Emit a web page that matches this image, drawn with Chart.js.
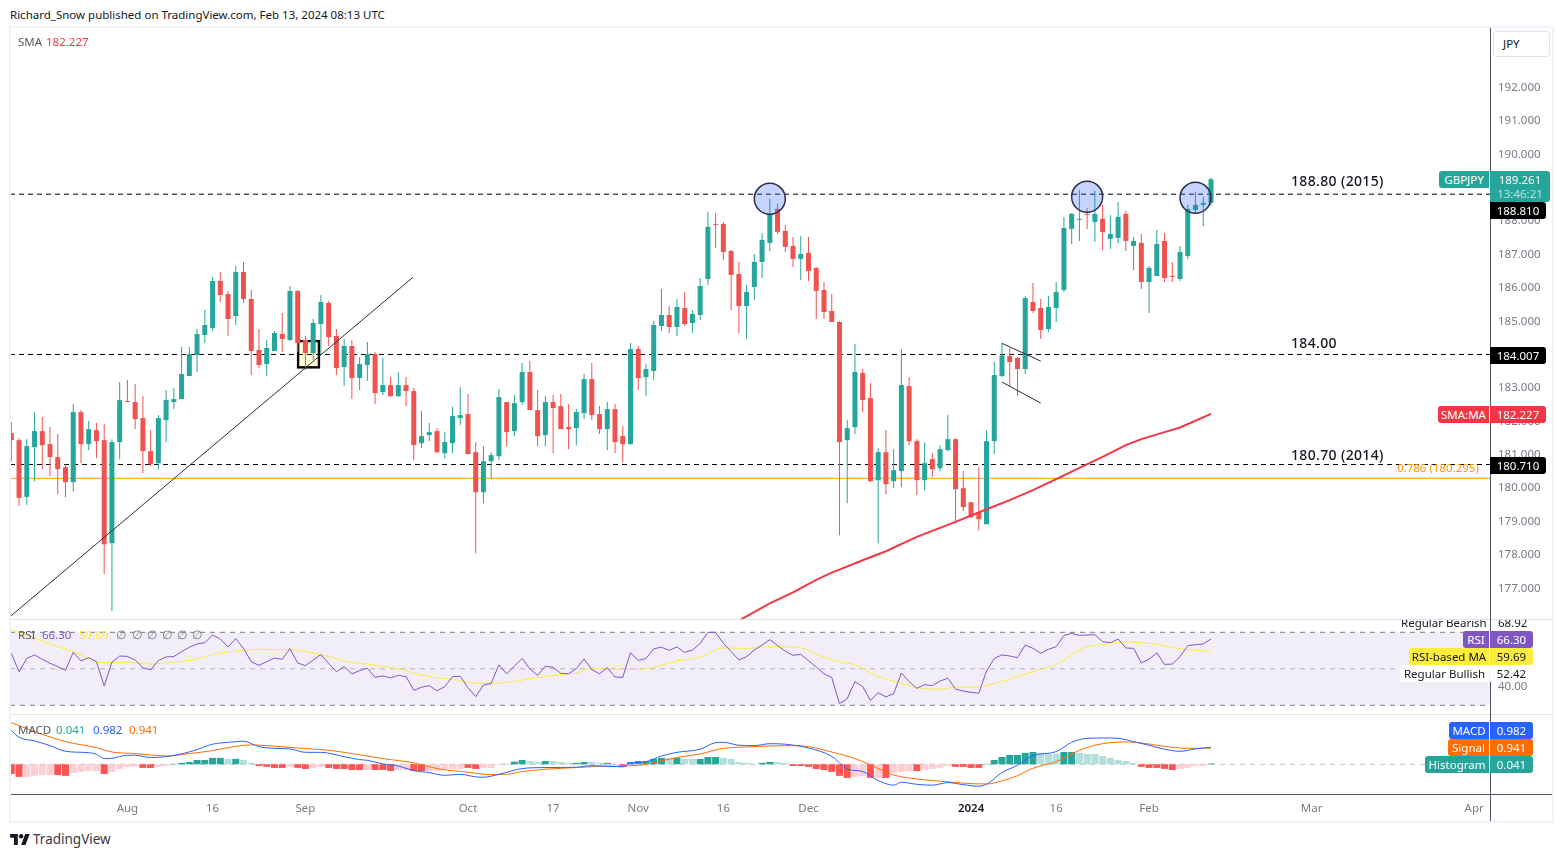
<!DOCTYPE html>
<html>
<head>
<meta charset="utf-8">
<title>GBPJPY</title>
<script src="https://cdn.jsdelivr.net/npm/chart.js@4/dist/chart.umd.js"></script>
<style>
html,body{margin:0;padding:0;background:#fff;overflow:hidden}
body{width:1564px;height:857px;position:relative;font-family:"Noto Sans",sans-serif;color:#131722}
canvas{position:absolute;left:10px}
.t{position:absolute;white-space:nowrap;font-size:11.5px;line-height:17px;z-index:5}
.line{position:absolute;z-index:4}
</style>
</head>
<body>
<canvas id="mainChart" width="1543" height="591" style="top:28px;width:1543px;height:591px"></canvas>
<canvas id="rsiChart" width="1543" height="94" style="top:620px;width:1543px;height:94px"></canvas>
<canvas id="macdChart" width="1543" height="107" style="top:715px;width:1543px;height:107px"></canvas>
<svg style="position:absolute;left:10px;top:834px" width="20" height="11" viewBox="0 0 36 20"><path fill="#131722" d="M14 20H7V7H0V0h14v20zM28 20h-8L27.5 0h8L28 20z"/><circle fill="#131722" cx="20" cy="4" r="4"/></svg>
<script>
// candles, one per weekday from 11 Jul 2023 to 13 Feb 2024
var opens = [
181.65,181.44,179.74,181.23,181.71,181.32,180.93,180.63,180.18,182.28,
181.32,181.74,181.44,178.35,181.38,182.61,182.58,182.10,181.11,180.75,
182.04,182.58,182.67,183.36,183.99,184.59,184.80,186.21,185.82,185.16,
186.48,185.67,184.14,183.72,184.11,184.62,184.44,185.91,184.44,184.05,
184.92,185.55,184.56,183.63,184.26,183.30,183.69,184.02,182.88,183.09,
182.76,183.09,182.91,181.35,181.59,181.71,181.05,181.35,182.10,182.22,
181.08,179.88,180.81,180.96,182.58,181.71,182.58,183.48,182.34,181.59,
182.58,182.46,181.83,181.80,182.25,183.27,182.22,181.77,182.37,181.56,
181.32,184.17,183.33,183.51,184.86,185.19,184.83,185.40,184.95,185.19,
186.27,187.92,187.92,187.11,186.42,185.46,186.03,186.78,187.35,188.37,
187.71,187.26,186.87,187.05,186.60,185.94,185.31,184.98,181.44,181.83,
183.45,182.70,180.24,181.08,180.21,180.51,183.06,181.41,180.24,180.87,
180.60,181.14,181.47,180.00,179.58,179.28,178.92,181.41,183.36,183.96,
183.90,183.57,185.58,185.40,184.77,185.40,185.94,187.77,188.04,188.22,
187.98,188.07,187.47,187.50,188.22,187.26,187.35,186.18,186.36,187.41,
186.36,186.27,186.96,188.34,188.49,188.55];
var closes = [
181.44,179.71,181.26,181.71,181.29,180.93,180.57,180.18,182.28,181.32,
181.77,181.41,178.32,181.38,182.64,182.58,182.07,181.11,180.72,182.10,
182.64,182.67,183.42,184.02,184.62,184.89,186.21,185.79,185.07,186.48,
185.67,184.11,183.69,184.20,184.65,184.47,185.91,184.35,184.05,184.95,
185.58,184.53,183.60,184.26,183.30,183.72,184.02,182.85,183.09,182.76,
183.09,182.91,181.29,181.56,181.68,181.08,181.38,182.16,182.19,181.02,
179.88,180.81,180.99,182.73,181.68,182.55,183.48,182.34,181.56,182.58,
182.40,181.77,181.77,182.28,183.27,182.19,181.77,182.37,181.38,181.32,
184.17,183.30,183.57,184.89,185.19,184.83,185.43,184.92,185.22,186.06,
187.83,187.89,187.08,186.39,185.46,185.88,186.78,187.44,188.22,187.68,
187.23,186.87,187.02,186.51,185.91,185.28,184.98,181.38,181.80,183.48,
182.64,180.21,181.08,180.12,180.54,183.09,181.41,180.24,180.75,180.57,
181.17,181.47,179.97,179.43,179.13,179.07,181.41,183.39,183.98,183.78,
183.57,185.70,185.31,184.74,185.43,185.88,187.80,188.22,188.07,188.19,
188.22,187.68,187.62,188.13,187.41,187.41,186.18,186.60,187.32,186.30,
186.33,187.08,188.37,188.49,188.55,189.26];
var highs = [
181.98,181.50,181.47,182.28,182.13,181.83,181.62,180.72,182.52,182.34,
182.01,181.95,181.92,181.47,183.18,183.24,183.12,182.76,181.74,182.19,
182.94,183.00,184.23,184.23,184.77,185.34,186.33,186.48,185.91,186.66,
186.78,185.94,184.77,184.44,184.71,185.25,186.06,185.94,184.56,185.07,
185.79,185.61,184.77,184.47,184.44,183.93,184.38,184.08,183.90,183.33,
183.48,183.33,183.00,182.31,181.95,181.80,181.68,182.43,183.03,182.82,
181.38,181.26,181.08,182.97,182.58,182.79,183.75,183.81,182.94,182.76,
182.79,182.82,182.52,182.37,183.42,183.75,182.46,182.58,182.52,181.86,
184.35,184.26,183.72,185.01,185.97,185.46,185.67,185.88,185.34,186.30,
188.28,188.25,187.98,187.14,186.78,186.09,187.02,187.65,188.67,188.52,
187.89,187.53,187.56,187.53,186.63,186.18,185.82,185.01,182.04,184.32,
183.57,183.15,181.20,181.74,181.17,184.17,183.33,181.47,181.38,181.05,
181.29,182.19,181.50,180.51,179.58,180.63,181.74,183.78,184.34,184.20,
183.93,185.76,186.15,185.67,185.76,186.18,188.13,188.25,188.94,188.40,
188.91,188.49,188.19,188.58,188.31,187.53,187.62,186.66,187.74,187.65,
186.78,187.26,188.49,188.88,188.73,189.30];
var lows = [
180.81,179.47,179.50,180.21,180.57,180.36,179.82,179.73,179.91,180.75,
181.14,180.90,177.42,176.31,180.87,182.58,181.77,180.45,180.66,180.57,
181.38,182.37,182.67,183.36,183.48,184.35,184.71,185.58,184.56,184.89,
185.55,183.39,183.60,183.36,184.11,184.08,184.41,184.08,183.54,183.84,
183.99,184.26,183.39,183.06,182.67,182.94,183.21,182.52,182.79,182.73,
182.73,182.46,180.84,181.20,181.41,181.05,180.90,181.05,181.89,181.02,
178.05,179.55,180.30,180.84,181.26,181.56,182.49,182.34,181.26,181.26,
181.05,181.77,181.17,181.29,182.07,182.04,181.62,181.14,181.05,180.78,
181.32,182.94,182.76,183.24,184.71,184.65,184.56,184.86,184.65,185.04,
186.09,187.20,186.84,185.34,184.65,184.47,185.64,186.30,187.11,187.62,
187.08,186.63,186.24,186.21,185.07,185.07,184.98,178.59,179.55,181.62,
182.28,180.18,178.35,179.82,180.00,180.03,181.29,179.79,179.94,180.33,
180.51,181.11,179.01,179.31,179.10,178.74,178.92,181.02,183.33,183.03,
182.76,183.42,185.25,184.47,184.68,184.98,185.88,187.32,187.41,187.77,
187.38,187.14,187.17,187.35,187.11,186.54,185.97,185.25,186.36,186.18,
186.18,186.21,186.87,188.25,187.86,188.46];

// 200 day SMA, read every few bars
var smaIdx = [94,98,101,104,106,107,110,113,117,122,126,129,132,135,138,141,144,146,149,151,155];
var smaVals = [176.03,176.55,176.88,177.25,177.47,177.56,177.84,178.11,178.54,178.99,179.37,179.64,179.94,180.27,180.61,180.94,181.29,181.47,181.68,181.82,182.227];

// drawings
var levels = [188.81,184.007,180.71];
var fibLevel = 180.295;
var trendIdx = [-0.17,51.9];
var trendVals = [176.15,186.32];
var flagIdx = [128,133];
var flagUpper = [184.34,183.81];
var flagLower = [183.18,182.55];
var circleIdx = [98,139,153];
var circleVals = [188.67,188.73,188.70];
var boxIdx = 38.4;
var boxLow = 183.59;
var boxHigh = 184.44;

// RSI, one per candle
var rsiVals = [
58.5,48.4,55.7,57.6,55.2,53.0,51.2,49.2,59.0,54.3,
56.1,53.9,40.6,53.6,57.0,56.8,54.8,50.6,49.4,54.5,
56.5,56.7,59.4,61.8,63.6,64.3,68.5,66.3,62.0,66.5,
61.2,53.9,51.9,53.9,55.9,55.2,61.0,53.2,51.7,54.8,
57.8,53.0,48.4,51.2,47.2,49.0,50.3,45.3,46.1,45.0,
46.4,45.7,38.2,39.9,40.8,38.0,40.2,45.7,45.9,39.7,
34.7,41.1,42.0,52.1,47.2,51.5,55.7,49.9,46.4,51.4,
50.8,47.5,47.3,50.1,55.4,49.5,47.3,50.6,45.5,45.3,
58.8,54.6,55.6,61.0,61.8,60.1,62.0,59.0,60.3,63.8,
70.0,70.0,64.0,59.4,54.8,56.7,60.3,63.0,66.0,62.7,
59.6,57.4,57.9,54.5,51.0,47.2,45.3,30.9,33.6,43.0,
40.2,32.7,36.9,34.6,36.4,47.7,43.0,39.3,41.3,40.8,
43.3,44.8,38.9,37.8,37.1,36.6,48.8,55.7,57.6,57.0,
56.1,63.0,61.2,58.5,60.7,62.1,68.3,69.4,68.3,68.5,
68.7,64.9,64.3,66.3,61.4,61.2,53.2,55.2,58.8,52.4,
52.6,56.6,62.7,63.2,63.6,66.3];
var rsiMaIdx = [0,3,7,8,12,15,18,21,24,26,29,32,36,40,44,46,50,54,57,60,63,65,67,68,70,73,75,78,81,83,86,89,92,95,98,102,104,107,109,112,115,117,120,122,125,127,129,130,133,135,137,139,141,143,144,148,150,152,155];
var rsiMaVals = [71.4,66.7,60.7,59.4,53.4,53.6,52.6,53.7,55.4,57.9,59.8,60.7,60.5,57.8,53.4,52.6,49.9,45.7,44.2,42.1,42.1,43.0,44.6,45.0,46.4,47.7,50.1,49.7,49.7,50.8,54.3,56.3,61.4,61.2,62.1,61.6,57.9,53.9,52.1,45.9,42.1,39.7,38.8,40.0,39.9,42.1,44.4,45.7,49.7,52.4,57.6,62.1,63.4,64.5,64.7,63.4,61.7,60.5,59.69];
var rsiUpper = 70, rsiMiddle = 50, rsiLower = 30;
var rsiTicks = [40];

// MACD
var histVals = [
-0.56,-0.73,-0.73,-0.67,-0.62,-0.62,-0.62,-0.67,-0.50,-0.44,
-0.39,-0.39,-0.56,-0.44,-0.27,-0.15,-0.13,-0.21,-0.21,-0.15,
-0.10,0.02,0.08,0.13,0.25,0.25,0.37,0.37,0.31,0.31,
0.25,0.08,-0.10,-0.15,-0.21,-0.21,-0.15,-0.21,-0.27,-0.21,
-0.15,-0.21,-0.27,-0.27,-0.33,-0.33,-0.33,-0.33,-0.33,-0.39,
-0.33,-0.33,-0.39,-0.39,-0.39,-0.39,-0.27,-0.27,-0.27,-0.21,
-0.27,-0.21,-0.21,-0.04,0.02,0.15,0.25,0.19,0.13,0.19,
0.19,0.13,0.08,0.08,0.13,0.13,0.08,0.08,0.02,-0.15,
0.13,0.19,0.19,0.31,0.37,0.37,0.37,0.31,0.31,0.31,
0.42,0.42,0.37,0.31,0.13,0.08,0.02,0.08,0.13,0.13,
0.08,-0.10,-0.10,-0.15,-0.27,-0.33,-0.44,-0.67,-0.79,-0.73,
-0.67,-0.79,-0.79,-0.79,-0.50,-0.44,-0.39,-0.39,-0.33,-0.27,
-0.21,-0.10,-0.15,-0.15,-0.21,-0.21,0.02,0.25,0.42,0.54,
0.54,0.66,0.71,0.66,0.60,0.60,0.71,0.71,0.66,0.60,
0.60,0.48,0.37,0.25,0.19,0.08,-0.15,-0.21,-0.21,-0.27,
-0.33,-0.27,-0.21,-0.10,-0.10,0.041];
// bars drawn in the full strength colour, the others are the pale tone
var histStrong = [0,1,6,7,12,17,18,21,22,23,24,25,26,27,29,32,33,34,35,37,38,41,42,43,44,45,47,48,49,52,53,59,60,64,65,66,69,73,74,77,79,80,81,82,83,84,86,89,90,91,97,98,101,102,103,104,105,106,107,108,111,113,117,122,123,124,125,126,127,128,129,130,131,132,136,137,146,147,148,149,150,155];
var macdIdx = [0,1,3,5,7,10,11,12,13,15,16,18,20,22,24,26,28,30,32,34,36,38,40,43,45,46,48,50,52,54,56,58,60,61,63,66,69,73,75,79,80,82,84,86,89,91,92,94,96,98,100,103,106,108,110,112,114,115,117,119,121,123,125,126,128,130,132,135,137,139,141,143,145,147,149,151,153,155];
var macdVals = [1.95,1.56,1.35,1.08,0.75,0.67,0.58,0.33,0.35,0.52,0.52,0.39,0.44,0.60,0.85,1.16,1.27,1.33,1.02,0.92,0.89,0.69,0.69,0.44,0.27,0.23,0.02,-0.10,-0.37,-0.48,-0.64,-0.58,-0.73,-0.75,-0.58,-0.25,-0.19,-0.17,-0.08,-0.15,0.06,0.15,0.48,0.69,0.87,1.25,1.27,1.10,1.08,1.19,1.16,0.94,0.46,-0.27,-0.42,-0.94,-1.21,-1.04,-1.16,-1.21,-1.06,-1.18,-1.27,-1.16,-0.48,-0.06,0.50,0.73,1.27,1.50,1.52,1.50,1.31,1.10,0.87,0.75,0.89,0.982];
var signalIdx = [0,3,7,11,13,16,20,23,26,29,31,33,37,41,44,48,52,55,59,62,64,66,69,73,76,81,83,86,89,92,95,100,103,106,109,111,114,117,120,124,126,128,130,132,135,137,139,141,144,146,148,151,153,155];
var signalVals = [2.41,1.89,1.31,0.96,0.71,0.62,0.48,0.62,0.79,1.04,1.12,1.08,0.94,0.81,0.62,0.33,0.08,-0.25,-0.46,-0.60,-0.58,-0.42,-0.29,-0.19,-0.12,-0.06,0.10,0.39,0.60,0.92,1.00,1.08,1.02,0.71,0.33,-0.04,-0.62,-0.85,-0.98,-1.12,-1.14,-0.96,-0.66,-0.23,0.15,0.60,0.98,1.19,1.29,1.23,1.10,0.94,0.92,0.941];

// axes
var priceTicks = [177,178,179,180,181,182,183,184,185,186,187,188,189,190,191,192];
var timeIdx = [15,26,38,59,70,81,92,103,124,135,147,168,189];
var timeLabels = ["Aug","16","Sep","Oct","17","Nov","16","Dec","2024","16","Feb","Mar","Apr"];

var UP = "#26a69a", DOWN = "#ef5350";
var X_MIN = -0.17, X_MAX = 191.05;
var AXIS_W = 63;

Chart.defaults.font.family = '"Noto Sans", sans-serif';
Chart.defaults.font.size = 11.5;
Chart.defaults.animation = false;

function pairs(xs, ys) {
	return xs.map(function(x, i) { return {x: x, y: ys[i]}; });
}
function flat(v) {
	return [{x: X_MIN, y: v}, {x: X_MAX, y: v}];
}
function lineSet(data, color, width, order, extra) {
	return Object.assign({
		type: "line", data: data, borderColor: color, borderWidth: width,
		pointRadius: 0, tension: 0, order: order, fill: false
	}, extra || {});
}
function noPadding(scale) {
	scale.paddingTop = scale.paddingBottom = scale.paddingLeft = scale.paddingRight = 0;
}
function isYear(c) {
	return c.tick && c.tick.value === 124;
}
function xAxis(show) {
	return {
		type: "linear", min: X_MIN, max: X_MAX, display: show, offset: false,
		grid: {display: false, drawTicks: false, offset: false}, border: {display: false},
		afterBuildTicks: function(s) { s.ticks = timeIdx.map(function(v) { return {value: v}; }); },
		afterFit: function(s) { noPadding(s); if (show) s.height = 28; },
		ticks: {
			autoSkip: false, maxRotation: 0, padding: 8,
			color: function(c) { return isYear(c) ? "#131722" : "#787b86"; },
			font: function(c) { return {size: 11.5, weight: isYear(c) ? "600" : "400"}; },
			callback: function(v) { return timeLabels[timeIdx.indexOf(v)]; }
		}
	};
}
function yAxis(min, max, ticks, digits) {
	return {
		position: "right", min: min, max: max,
		grid: {display: false, drawTicks: false}, border: {display: false},
		afterBuildTicks: function(s) { s.ticks = ticks.map(function(v) { return {value: v}; }); },
		afterFit: function(s) { noPadding(s); s.width = AXIS_W; },
		ticks: {
			display: ticks.length > 0, padding: 8, color: "#787b86",
			callback: function(v) { return v.toFixed(digits); }
		}
	};
}
function baseOptions(x, y) {
	return {
		responsive: false, animation: false, events: [],
		layout: {padding: 0, autoPadding: false},
		plugins: {legend: {display: false}, tooltip: {enabled: false}},
		scales: {x: x, y: y}
	};
}

// price pane
var barIdx = opens.map(function(_, i) { return i; });
var candleColors = opens.map(function(o, i) { return closes[i] >= o ? UP : DOWN; });
var mainSets = [
	{type: "bar", data: [{x: boxIdx, y: [boxLow, boxHigh]}], backgroundColor: "rgba(255,235,59,0.2)", borderColor: "#000", borderWidth: 2, borderSkipped: false, barThickness: 23, grouped: false, order: 10},
	lineSet(flat(fibLevel), "#ff9800", 1, 9)
];
levels.forEach(function(v) {
	mainSets.push(lineSet(flat(v), "#000", 1, 8, {borderDash: [5, 4]}));
});
mainSets.push(
	{type: "bar", data: barIdx.map(function(i) { return {x: i, y: [lows[i], highs[i]]}; }), backgroundColor: candleColors, barThickness: 1, grouped: false, inflateAmount: 0, order: 6},
	{type: "bar", data: barIdx.map(function(i) { return {x: i, y: [opens[i], closes[i]]}; }), backgroundColor: candleColors, barThickness: 5, minBarLength: 1, grouped: false, inflateAmount: 0, order: 5},
	lineSet(pairs(smaIdx, smaVals), "#f23645", 2, 4),
	lineSet(pairs(trendIdx, trendVals), "#2a2e39", 1, 3),
	lineSet(pairs(flagIdx, flagUpper), "#2a2e39", 1, 3),
	lineSet(pairs(flagIdx, flagLower), "#2a2e39", 1, 3),
	{type: "scatter", data: pairs(circleIdx, circleVals), showLine: false, pointRadius: 15.5, pointBackgroundColor: "rgba(41,98,255,0.27)", pointBorderColor: "#2a2e49", pointBorderWidth: 1.5, order: 2}
);
new Chart(document.getElementById("mainChart"), {
	type: "bar",
	data: {datasets: mainSets},
	options: baseOptions(xAxis(false), yAxis(176.08, 193.79, priceTicks, 3))
});

// RSI pane
new Chart(document.getElementById("rsiChart"), {
	type: "line",
	data: {datasets: [
		lineSet(flat(rsiUpper), "#787b86", 1, 9, {borderDash: [5, 5], fill: {value: rsiLower}, backgroundColor: "rgba(126,87,194,0.1)"}),
		lineSet(flat(rsiLower), "#787b86", 1, 9, {borderDash: [5, 5]}),
		lineSet(flat(rsiMiddle), "rgba(120,123,134,0.5)", 1, 9, {borderDash: [5, 5]}),
		lineSet(pairs(rsiMaIdx, rsiMaVals), "#ffeb3b", 1, 5, {cubicInterpolationMode: "monotone"}),
		lineSet(pairs(barIdx, rsiVals), "#7e57c2", 1, 4)
	]},
	options: baseOptions(xAxis(false), yAxis(25.23, 76.74, rsiTicks, 2))
});

// MACD pane with the time axis
var histColors = histVals.map(function(v, i) {
	var strong = histStrong.indexOf(i) >= 0;
	if (v >= 0) return strong ? "#26a69a" : "#b2dfdb";
	return strong ? "#ff5252" : "#ffcdd2";
});
new Chart(document.getElementById("macdChart"), {
	type: "bar",
	data: {datasets: [
		lineSet(flat(0), "rgba(120,123,134,0.5)", 1, 9, {borderDash: [5, 5]}),
		{type: "bar", data: pairs(barIdx, histVals), backgroundColor: histColors, barThickness: 7, grouped: false, inflateAmount: 0, order: 6},
		lineSet(pairs(signalIdx, signalVals), "#ff6d00", 1, 5, {cubicInterpolationMode: "monotone"}),
		lineSet(pairs(macdIdx, macdVals), "#2962ff", 1, 4, {cubicInterpolationMode: "monotone"})
	]},
	options: baseOptions(xAxis(true), yAxis(-1.72, 2.85, [], 3))
});

// frame and pane separators
function rule(left, top, width, height, color) {
	var d = document.createElement("div");
	d.className = "line";
	d.style.cssText = "left:" + left + "px;top:" + top + "px;width:" + width + "px;height:" + height + "px;background:" + color;
	document.body.appendChild(d);
}
rule(9, 26, 1545, 2, "#f0f3fa");
rule(9, 821, 1545, 2, "#f0f3fa");
rule(9, 26, 2, 797, "#f0f3fa");
rule(1552, 26, 2, 797, "#f0f3fa");
rule(11, 619, 1541, 1, "#e0e3eb");
rule(11, 714, 1541, 1, "#e0e3eb");
rule(11, 794, 1541, 1, "#50535e");
rule(1490, 28, 1, 793, "#50535e");

// text and price tags
function text(str, left, top, css) {
	var d = document.createElement("div");
	d.className = "t";
	d.textContent = str;
	d.style.cssText = "left:" + left + "px;top:" + top + "px;" + (css || "");
	document.body.appendChild(d);
	return d;
}
function tag(str, left, top, width, bg, color, radius) {
	return text(str, left, top, "width:" + width + "px;height:17px;background:" + bg + ";color:" + color + ";text-align:center;border-radius:" + radius + ";");
}
text("Richard_Snow published on TradingView.com, Feb 13, 2024 08:13 UTC", 10, 6, "color:#131722;");
text("TradingView", 33, 831, "font-size:13.5px;color:#363a45;");

text("SMA", 18, 33, "color:#555963;");
text("182.227", 46, 33, "color:#f23645;");
text("RSI", 18, 626, "color:#555963;");
text("66.30", 42, 626, "color:#7e57c2;");
text("59.69", 79, 626, "color:#ffeb3b;");
["116", "132", "147", "162", "177", "192"].forEach(function(x) {
	text("\u2205", +x, 626, "color:#787b86;");
});
text("MACD", 18, 721, "color:#555963;");
text("0.041", 56, 721, "color:#26a69a;");
text("0.982", 93, 721, "color:#2962ff;");
text("0.941", 129, 721, "color:#ff6d00;");

var levelStyle = "font-size:14px;font-weight:500;letter-spacing:0.35px;color:#131722;";
text("188.80 (2015)", 1291, 172, levelStyle);
text("184.00", 1291, 334, levelStyle);
text("180.70 (2014)", 1291, 446, levelStyle);
text("0.786 (180.295)", 1397, 459, "color:#ff9800;");

// currency box
text("JPY", 1493, 31, "width:46px;height:24px;line-height:24px;padding-left:9px;border:1px solid #e0e3eb;border-radius:4px;color:#131722;background:#fff;");

tag("GBPJPY", 1439, 171, 50, UP, "#fff", "3px 0 0 3px");
text("189.261", 1490, 171, "width:60px;height:31px;background:#26a69a;color:#fff;text-align:center;border-radius:0 3px 3px 0;");
text("13:46:21", 1490, 185, "width:60px;color:#b2e5df;text-align:center;");
tag("188.810", 1490, 202, 56, "#000", "#fff", "0 3px 3px 0");
tag("184.007", 1490, 347, 56, "#000", "#fff", "0 3px 3px 0");
tag("SMA:MA", 1438, 406, 51, "#f23645", "#fff", "3px 0 0 3px");
tag("182.227", 1490, 406, 56, "#f23645", "#fff", "0 3px 3px 0");
tag("180.710", 1490, 457, 56, "#000", "#fff", "0 3px 3px 0");

// RSI tags, the first row is cut by the pane edge
var clip = document.createElement("div");
clip.style.cssText = "position:absolute;left:1390px;top:620px;width:150px;height:10px;overflow:hidden;z-index:5";
document.body.appendChild(clip);
["Regular Bearish", "68.92"].forEach(function(s, i) {
	var d = text(s, i ? 108 : 11, -6, "");
	clip.appendChild(d);
});
tag("RSI", 1463, 631, 26, "#7e57c2", "#fff", "3px 0 0 3px");
tag("66.30", 1490, 631, 43, "#7e57c2", "#fff", "0 3px 3px 0");
tag("RSI-based MA", 1409, 648, 80, "#ffeb3b", "#131722", "3px 0 0 3px");
tag("59.69", 1490, 648, 43, "#ffeb3b", "#131722", "0 3px 3px 0");
tag("Regular Bullish", 1400, 665, 89, "#fff", "#131722", "0");
tag("52.42", 1490, 665, 43, "#fff", "#131722", "0");

tag("MACD", 1449, 722, 40, "#2962ff", "#fff", "3px 0 0 3px");
tag("0.982", 1490, 722, 43, "#2962ff", "#fff", "0 3px 3px 0");
tag("Signal", 1448, 739, 41, "#ff6d00", "#fff", "3px 0 0 3px");
tag("0.941", 1490, 739, 43, "#ff6d00", "#fff", "0 3px 3px 0");
tag("Histogram", 1425, 756, 64, "#26a69a", "#fff", "3px 0 0 3px");
tag("0.041", 1490, 756, 43, "#26a69a", "#fff", "0 3px 3px 0");
</script>
</body>
</html>
